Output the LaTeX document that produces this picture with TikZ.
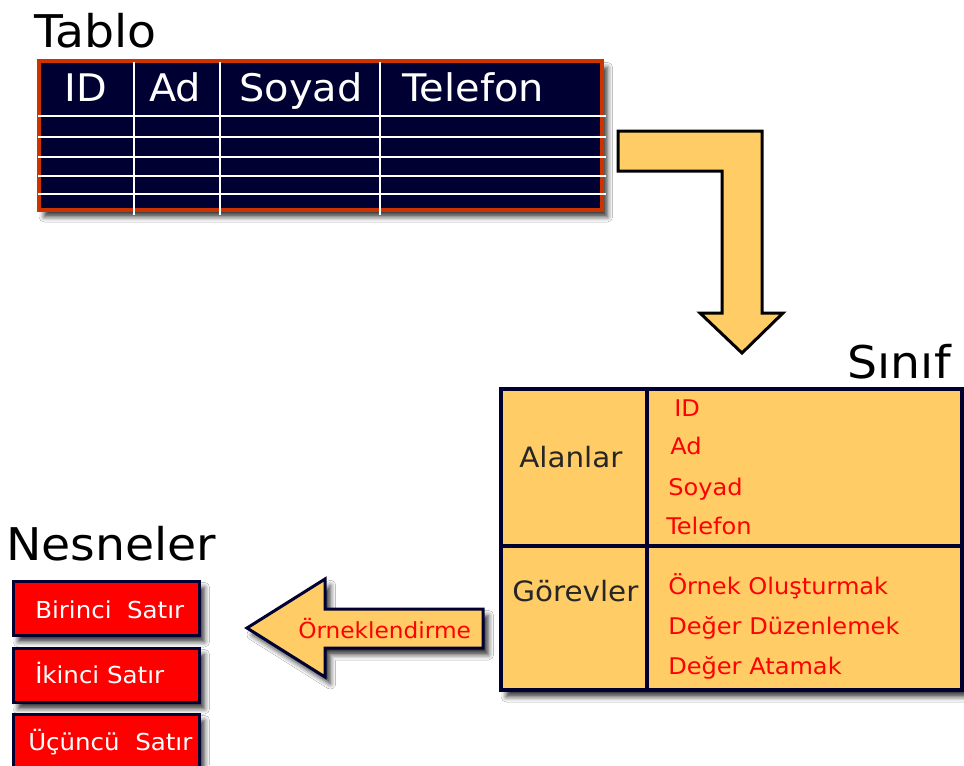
\documentclass[tikz,border=0pt]{standalone}
\usepackage{fontspec}
\setmainfont{DejaVu Sans}[FakeStretch=1.05]
\usetikzlibrary{shadows.blur}
\definecolor{navy}{HTML}{000033}
\definecolor{tabred}{HTML}{CC3300}
\definecolor{gold}{HTML}{FFCC66}
\definecolor{txtred}{HTML}{FF0000}
\tikzset{
  title/.style={anchor=base west, inner sep=0pt, font=\fontsize{33.8}{40}\selectfont, text=black},
  hdr/.style={anchor=base west, inner sep=0pt, font=\fontsize{28.5}{34}\selectfont, text=white},
  lbl/.style={anchor=base west, inner sep=0pt, font=\fontsize{21}{25}\selectfont, text=black!85},
  redtxt/.style={anchor=base west, inner sep=0pt, font=\fontsize{17.2}{21}\selectfont, text=txtred},
  objtxt/.style={anchor=base west, inner sep=0pt, font=\fontsize{17.5}{20}\selectfont, text=white},
  shad/.style={blur shadow={shadow xshift=4pt, shadow yshift=-5pt, shadow blur radius=4pt, shadow opacity=80}},
  objbox/.style={draw=navy, line width=2.25pt, fill=red, minimum width=139.5pt, minimum height=40.5pt, inner sep=0pt, shad},
  gridline/.style={draw=white, line width=1.6pt},
}
\begin{document}
\begin{tikzpicture}[x=0.75pt,y=-0.75pt]
\useasboundingbox (0,0) rectangle (964,765);
\fill[white] (0,0) rectangle (964,765);

% Table
\node[title] (tablo) at (34,47) {Tablo};
\path[fill=navy, draw=tabred, line width=2.5pt, shad] (39,61) rectangle (602,210);
\foreach \yy in {116,137,157,176,194} \draw[gridline] (38,\yy) -- (606,\yy);
\foreach \xx in {134,220,380} \draw[gridline] (\xx,62) -- (\xx,215);
\node[hdr] (hid) at (64,101) {ID};
\node[hdr] (had) at (149,101) {Ad};
\node[hdr] (hsoy) at (239,101) {Soyad};
\node[hdr] (htel) at (402,101) {Telefon};

% bent arrow
\draw[fill=gold, draw=black, line width=2.25pt, miter limit=4]
  (618,131) -- (762,131) -- (762,313) -- (783,313) -- (742,353) -- (700,313)
  -- (722,313) -- (722,171) -- (618,171) -- cycle;

% Class
\node[title, anchor=base east] (sinif) at (951,378) {Sınıf};
\path[fill=gold, draw=navy, line width=2.5pt, shad] (501,389) rectangle (962,690);
\draw[navy, line width=2.5pt] (647,389) -- (647,690);
\draw[navy, line width=2.5pt] (501,546) -- (962,546);
\node[lbl] (alan) at (519,467) {Alanlar};
\node[lbl] (gorev) at (512,601) {Görevler};
\node[redtxt] (cid) at (674,416) {ID};
\node[redtxt] (cad) at (670,454) {Ad};
\node[redtxt] (csoy) at (668,495) {Soyad};
\node[redtxt] (ctel) at (666,534) {Telefon};
\node[redtxt] (m1) at (668,594) {Örnek Oluşturmak};
\node[redtxt] (m2) at (668,634) {Değer Düzenlemek};
\node[redtxt] (m3) at (668,674) {Değer Atamak};

% left arrow
\draw[fill=gold, draw=navy, line width=2.25pt, shad]
  (247,628) -- (325,579) -- (325,609) -- (483,609) -- (483,648) -- (325,648) -- (325,677) -- cycle;
\node[redtxt, font=\fontsize{16.6}{20}\selectfont] (ornek) at (298,638) {Örneklendirme};

% Objects
\node[title] (nesne) at (6,560) {Nesneler};
\node[objbox] (b1) at (106,608) {};
\node[objbox] (b2) at (106,675) {};
\node[objbox] (b3) at (106,741) {};
\node[objtxt] (t1) at (35,618) {Birinci\ \ Satır};
\node[objtxt] (t2) at (35,683) {İkinci Satır};
\node[objtxt] (t3) at (28,750) {Üçüncü\ \ Satır};
\end{tikzpicture}
\end{document}
